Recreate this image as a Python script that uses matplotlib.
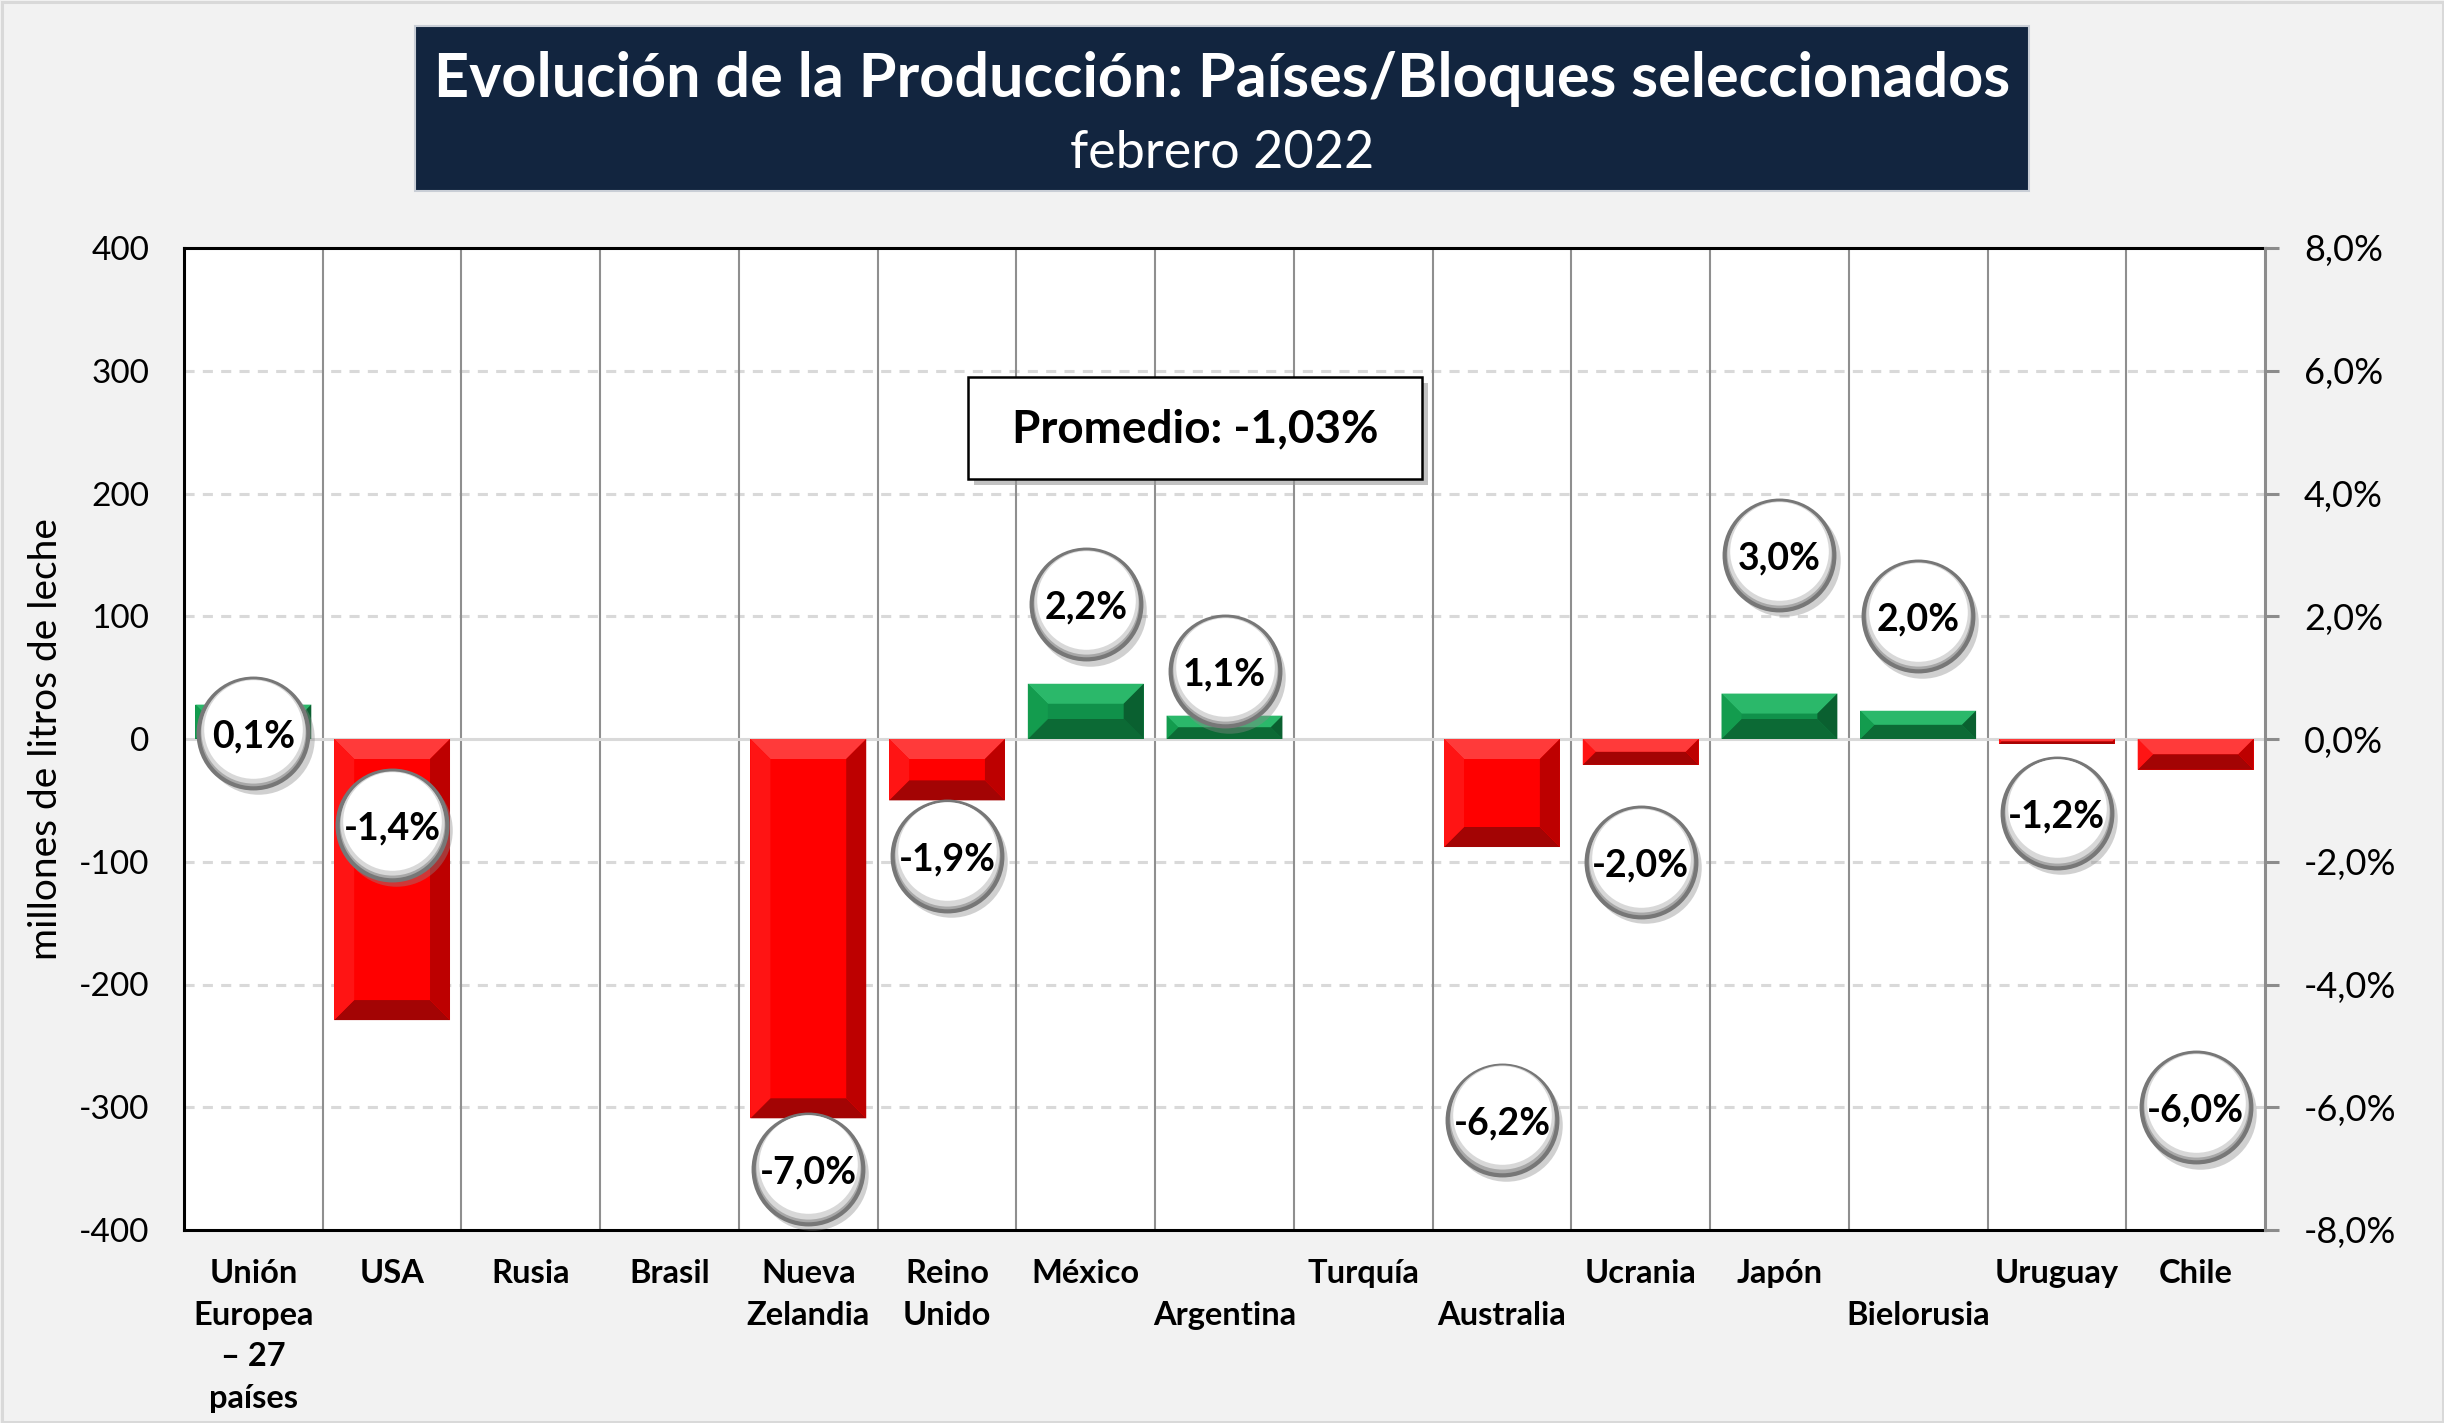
import numpy as np
import matplotlib.pyplot as plt
from matplotlib.patches import Polygon, Rectangle
from matplotlib.transforms import offset_copy
from matplotlib.ticker import FuncFormatter

# datos: variacion interanual de la produccion de leche, febrero 2022
paises = ['Unión\nEuropea\n– 27\npaíses', 'USA', 'Rusia', 'Brasil', 'Nueva\nZelandia',
          'Reino\nUnido', 'México', '\nArgentina', 'Turquía', '\nAustralia', 'Ucrania',
          'Japón', '\nBielorusia', 'Uruguay', 'Chile']
volumen = [28, -229, np.nan, np.nan, -309, -50, 45, 19, np.nan, -88, -21, 37, 23, -4, -25]   # millones de litros
variacion = [0.1, -1.4, np.nan, np.nan, -7.0, -1.9, 2.2, 1.1, np.nan, -6.2, -2.0, 3.0, 2.0, -1.2, -6.0]  # %
promedio = -1.03

W, H = 2444, 1423
plt.rcParams['font.family'] = ['Lato', 'DejaVu Sans']
plt.rcParams['axes.unicode_minus'] = False

fig = plt.figure(figsize=(W/100., H/100.), dpi=100, facecolor='#f2f2f2')

# plot area in pixels
L, R, T, B = 184, 2265, 248, 1230
ax = fig.add_axes([L/W, 1-B/H, (R-L)/W, (B-T)/H])
ax.set_facecolor('white')

x = np.arange(len(paises))
vol = np.asarray(volumen, dtype=float)
var = np.asarray(variacion, dtype=float)

ax.set_xlim(-0.5, len(paises)-0.5)
ax.set_ylim(-400, 400)
ax.set_yticks(np.arange(-400, 401, 100))
ax.yaxis.set_major_formatter(FuncFormatter(lambda v, p: '%.0f' % v))

# grid
for v in np.arange(-300, 400, 100):
    if v != 0:
        ax.axhline(v, color='#d9d9d9', lw=2.2, dashes=(3.3, 2.7), zorder=1)
for i in range(len(paises)-1):
    ax.axvline(i+0.5, color='#8f8f8f', lw=1.5, zorder=1)
ax.axhline(0, color='#d9d9d9', lw=2.2, zorder=2)

# bars with bevel
px_x = (R-L)/float(len(paises))
px_y = (B-T)/800.
ancho = 0.835
colores = {
    'neg': dict(main='#ff0000', top='#ff3a3a', bot='#a30404', left='#ff1414', right='#bd0000'),
    'pos': dict(main='#10914a', top='#2bb86a', bot='#0c6a35', left='#139c4e', right='#0a6030'),
}
for i in range(len(paises)):
    v = vol[i]
    if np.isnan(v):
        continue
    c = colores['pos'] if v > 0 else colores['neg']
    x0, x1 = i - ancho/2, i + ancho/2
    y0, y1 = min(0, v), max(0, v)
    b = min(20., abs(v)*px_y/2.)
    bx, by = b/px_x, b/px_y
    ax.add_patch(Rectangle((x0, y0), x1-x0, y1-y0, facecolor=c['main'], lw=0, zorder=3))
    ax.add_patch(Polygon([(x0, y1), (x1, y1), (x1-bx, y1-by), (x0+bx, y1-by)], facecolor=c['top'], lw=0, zorder=3))
    ax.add_patch(Polygon([(x0, y0), (x1, y0), (x1-bx, y0+by), (x0+bx, y0+by)], facecolor=c['bot'], lw=0, zorder=3))
    ax.add_patch(Polygon([(x0, y0), (x0+bx, y0+by), (x0+bx, y1-by), (x0, y1)], facecolor=c['left'], lw=0, zorder=3))
    ax.add_patch(Polygon([(x1, y0), (x1-bx, y0+by), (x1-bx, y1-by), (x1, y1)], facecolor=c['right'], lw=0, zorder=3))

ax.set_xticks(x)
ax.set_xticklabels(paises, fontsize=23.5, fontweight='bold', linespacing=1.52)
ax.tick_params(axis='x', length=0, pad=21)
ax.tick_params(axis='y', length=0, pad=25, labelsize=24)

ax.set_ylabel('millones de litros de leche', fontsize=28, va='center')
ax.yaxis.set_label_coords((46.-L)/(R-L), 0.5)

for s in ['top', 'left', 'bottom']:
    ax.spines[s].set_color('black')
    ax.spines[s].set_linewidth(2.2)
ax.spines['right'].set_visible(False)

# secondary axis with the percent variation
ax2 = ax.twinx()
ax2.set_ylim(-8, 8)
ax2.set_yticks(np.arange(-8, 9, 2))
ax2.yaxis.set_major_formatter(FuncFormatter(lambda v, p: ('%.1f%%' % v).replace('.', ',')))
ax2.tick_params(axis='y', direction='out', length=10, width=2.2, color='#8c8c8c', pad=18, labelsize=26)
for s in ['top', 'left', 'bottom']:
    ax2.spines[s].set_visible(False)
ax2.spines['right'].set_color('#8c8c8c')
ax2.spines['right'].set_linewidth(2.2)

ok = ~np.isnan(var)
xb, yb = x[ok], var[ok]
sombra = offset_copy(ax2.transData, fig=fig, x=3, y=-4, units='points')
ax2.scatter(xb, yb, s=81**2, color='#8a8a8a', alpha=0.4, linewidths=0, transform=sombra, zorder=3)
ax2.scatter(xb, yb, s=79**2, facecolor='#a8a8a8', edgecolor='#777777', linewidths=3, zorder=4)
up1 = offset_copy(ax2.transData, fig=fig, x=0, y=1.5, units='points')
ax2.scatter(xb, yb, s=75**2, facecolor='#d8d8d8', linewidths=0, transform=up1, zorder=5)
up2 = offset_copy(ax2.transData, fig=fig, x=0, y=3, units='points')
ax2.scatter(xb, yb, s=71**2, facecolor='white', linewidths=0, transform=up2, zorder=6)
txt = offset_copy(ax2.transData, fig=fig, x=0, y=-2.5, units='points')
for xi, vi in zip(xb, yb):
    ax2.text(xi, vi, ('%.1f%%' % vi).replace('.', ','), ha='center', va='center',
             fontsize=27, fontweight='bold', color='black', zorder=7, transform=txt)

# title box
fig.patches.append(Rectangle((415./W, 1-191./H), (2029.-415)/W, 165./H, transform=fig.transFigure,
                             facecolor='#12253f', edgecolor='#c9ced6', lw=1.5, zorder=1))
fig.text(0.5, 1-97./H, 'Evolución de la Producción: Países/Bloques seleccionados',
         ha='center', va='baseline', fontsize=44, fontweight='bold', color='white')
fig.text(0.5, 1-168./H, 'febrero 2022', ha='center', va='baseline', fontsize=37.5, color='white')

# promedio box
fig.patches.append(Rectangle((974./W, 1-485./H), (1422.-968)/W, (479.-377)/H, transform=fig.transFigure,
                             facecolor='#9a9a9a', alpha=0.6, lw=0, zorder=1))
fig.patches.append(Rectangle((968./W, 1-479./H), (1422.-968)/W, (479.-377)/H, transform=fig.transFigure,
                             facecolor='white', edgecolor='black', lw=1.8, zorder=2))
fig.text(1195./W, 1-442./H, ('Promedio: %.2f%%' % promedio).replace('.', ','),
         ha='center', va='baseline', fontsize=33, fontweight='bold', color='black', zorder=3)

# border of the chart
fig.patches.append(Rectangle((1.5/W, 1.5/H), 1-3./W, 1-3./H, transform=fig.transFigure,
                             fill=False, edgecolor='#d9d9d9', lw=2.2, zorder=0))

plt.savefig('out.png', dpi=100, facecolor=fig.get_facecolor())
